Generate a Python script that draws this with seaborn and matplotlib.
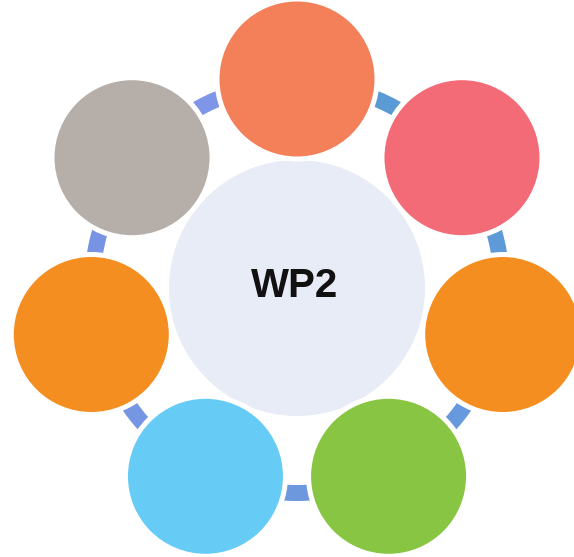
import numpy as np
import pandas as pd
import matplotlib
matplotlib.use("Agg")
import matplotlib.pyplot as plt
from matplotlib.patches import Wedge
import seaborn as sns

# ---- data ----
center_label = "WP2"
node_names = ["n1", "n2", "n3", "n4", "n5", "n6", "n7"]
node_colors = ["#F4805A", "#F26B77", "#F58E21", "#88C542", "#66CCF5", "#F58E21", "#B6AEA8"]
connector_colors = ["#5B9BD5", "#5E9AD8", "#6699DD", "#6E98DE", "#7596E2", "#7993E4", "#7F96E8"]
center_color = "#E8ECF6"

sns.set_theme(style="white")
plt.rcParams['font.family'] = ['Liberation Sans', 'DejaVu Sans']

W, H = 574, 557
fig = plt.figure(figsize=(W / 100, H / 100), dpi=100)
ax = fig.add_axes([0, 0, 1, 1])
ax.set_xlim(0, W)
ax.set_ylim(0, H)
ax.axis("off")

cx, cy = 297, H - 288
ring_rx, ring_ry = 211, 209
n = len(node_names)
angles = 90 - np.arange(n) * 360 / n
df = pd.DataFrame({
    "name": node_names,
    "x": cx + ring_rx * np.cos(np.radians(angles)),
    "y": cy + ring_ry * np.sin(np.radians(angles)),
})

px2pt = 72 / 100

# connectors (ring segments)
for i in range(n):
    a1 = angles[i]
    a2 = angles[(i + 1) % n] if i + 1 < n else angles[0] - 360
    ax.add_patch(Wedge((cx, cy), 213, a2, a1, width=16,
                       facecolor=connector_colors[i], edgecolor="none", zorder=1))

# center node
sns.scatterplot(x=[cx], y=[cy], s=(256 * px2pt) ** 2, color=center_color,
                edgecolor="none", linewidth=0, ax=ax, zorder=2, legend=False)

# outer nodes
sns.scatterplot(data=df, x="x", y="y", hue="name", palette=node_colors,
                s=(160 * px2pt) ** 2, edgecolor="white", linewidth=5 * px2pt,
                ax=ax, zorder=3, legend=False)

ax.text(cx - 2, cy + 2, center_label, ha="center", va="center",
        fontsize=29, fontweight="bold", color="#111111", zorder=4)

ax.set_xlim(0, W)
ax.set_ylim(0, H)
ax.set_xlabel("")
ax.set_ylabel("")
fig.savefig("out.png", dpi=100)
